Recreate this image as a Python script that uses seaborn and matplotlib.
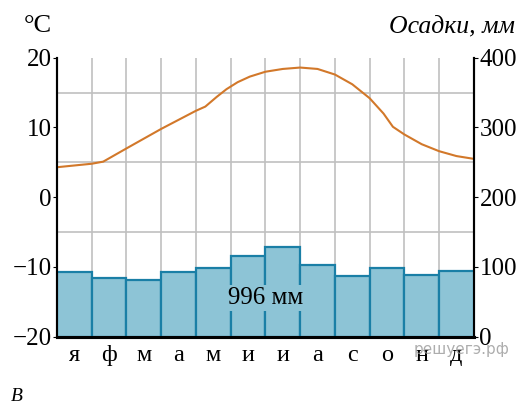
import matplotlib
matplotlib.use("Agg")
import matplotlib.pyplot as plt
import seaborn as sns
import pandas as pd

# monthly data
months = ['я', 'ф', 'м', 'а', 'м', 'и', 'и', 'а', 'с', 'о', 'н', 'д']
precip = [93, 84, 81, 92, 99, 115, 128, 102, 87, 99, 88, 94]

# temperature curve (x in months from the left edge, deg C)
temp_x = [0, 1.0, 1.33, 2, 3, 4, 4.27, 4.6, 4.88, 5.2, 5.55, 6, 6.5, 7, 7.5, 8,
          8.5, 9, 9.4, 9.67, 10, 10.5, 11, 11.5, 12]
temp_y = [4.3, 4.8, 5.1, 7.0, 9.8, 12.4, 13.0, 14.4, 15.5, 16.5, 17.3, 18.0, 18.4, 18.6,
          18.4, 17.6, 16.2, 14.2, 12.0, 10.1, 9.0, 7.6, 6.6, 5.9, 5.5]

sns.set_style("white")
plt.rcParams['font.family'] = ['Liberation Serif', 'DejaVu Serif']
plt.rcParams['text.color'] = 'black'
plt.rcParams['xtick.color'] = 'black'
plt.rcParams['ytick.color'] = 'black'

fig = plt.figure(figsize=(5.23, 4.07), dpi=100)
ax = fig.add_axes([0.109, 0.173, 0.797, 0.685])

df = pd.DataFrame({'m': list(range(12)), 'p': precip})
sns.barplot(data=df, x='m', y='p', ax=ax, width=1.0, color='#8dc4d6', saturation=1,
            edgecolor='#1a7fa6', linewidth=1.6, zorder=3)

ax.set_xlim(-0.5, 11.5)
ax.set_ylim(0, 400)
ax.set_xticks(range(12))
ax.set_xticklabels(months, fontsize=17.5)
ax.set_xticks([i - 0.5 for i in range(13)], minor=True)
ax.set_yticks(range(0, 401, 100))
ax.set_yticks(range(0, 401, 50), minor=True)
ax.tick_params(axis='x', which='both', length=0, pad=6)
ax.grid(True, which='minor', color='#c0c0c0', linewidth=1.2, zorder=0)
ax.grid(False, which='major')
ax.set_axisbelow(True)
ax.set_xlabel('')
ax.set_ylabel('')

ax.text(5.5, 55, '996 мм', ha='center', va='center', fontsize=18, zorder=5,
        bbox=dict(facecolor='#8dc4d6', edgecolor='none', pad=1.5))

# temperature on the left axis
ax2 = ax.twinx()
ax2.yaxis.tick_left()
ax.yaxis.tick_right()
ax.tick_params(axis='y', which='major', labelsize=18, length=3, pad=1)
ax.tick_params(axis='y', which='minor', length=0)
sns.lineplot(x=[v - 0.5 for v in temp_x], y=temp_y, ax=ax2, color='#d2782a', linewidth=1.5)
ax2.set_ylim(-20, 20)
ax2.set_yticks([-20, -10, 0, 10, 20])
ax2.tick_params(axis='y', labelsize=18, length=3, pad=1)
ax2.set_ylabel('')

for a in (ax, ax2):
    a.spines['top'].set_visible(False)
    a.spines['left'].set_color('black')
    a.spines['left'].set_linewidth(1.5)
    a.spines['right'].set_color('black')
    a.spines['right'].set_linewidth(1.5)
    a.spines['bottom'].set_color('black')
    a.spines['bottom'].set_linewidth(2.2)

fig.text(0.046, 0.937, '°C', fontsize=19, ha='left', va='center')
fig.text(0.985, 0.935, 'Осадки, мм', fontsize=18.5, style='italic', ha='right', va='center')
fig.text(0.02, 0.027, 'B', fontsize=14, style='italic', ha='left', va='center')
fig.text(0.79, 0.142, 'решуегэ.рф', fontsize=11, color='#999999', alpha=0.8,
         family=['DejaVu Sans'], ha='left', va='center', zorder=10)

fig.savefig('out.png', dpi=100)
